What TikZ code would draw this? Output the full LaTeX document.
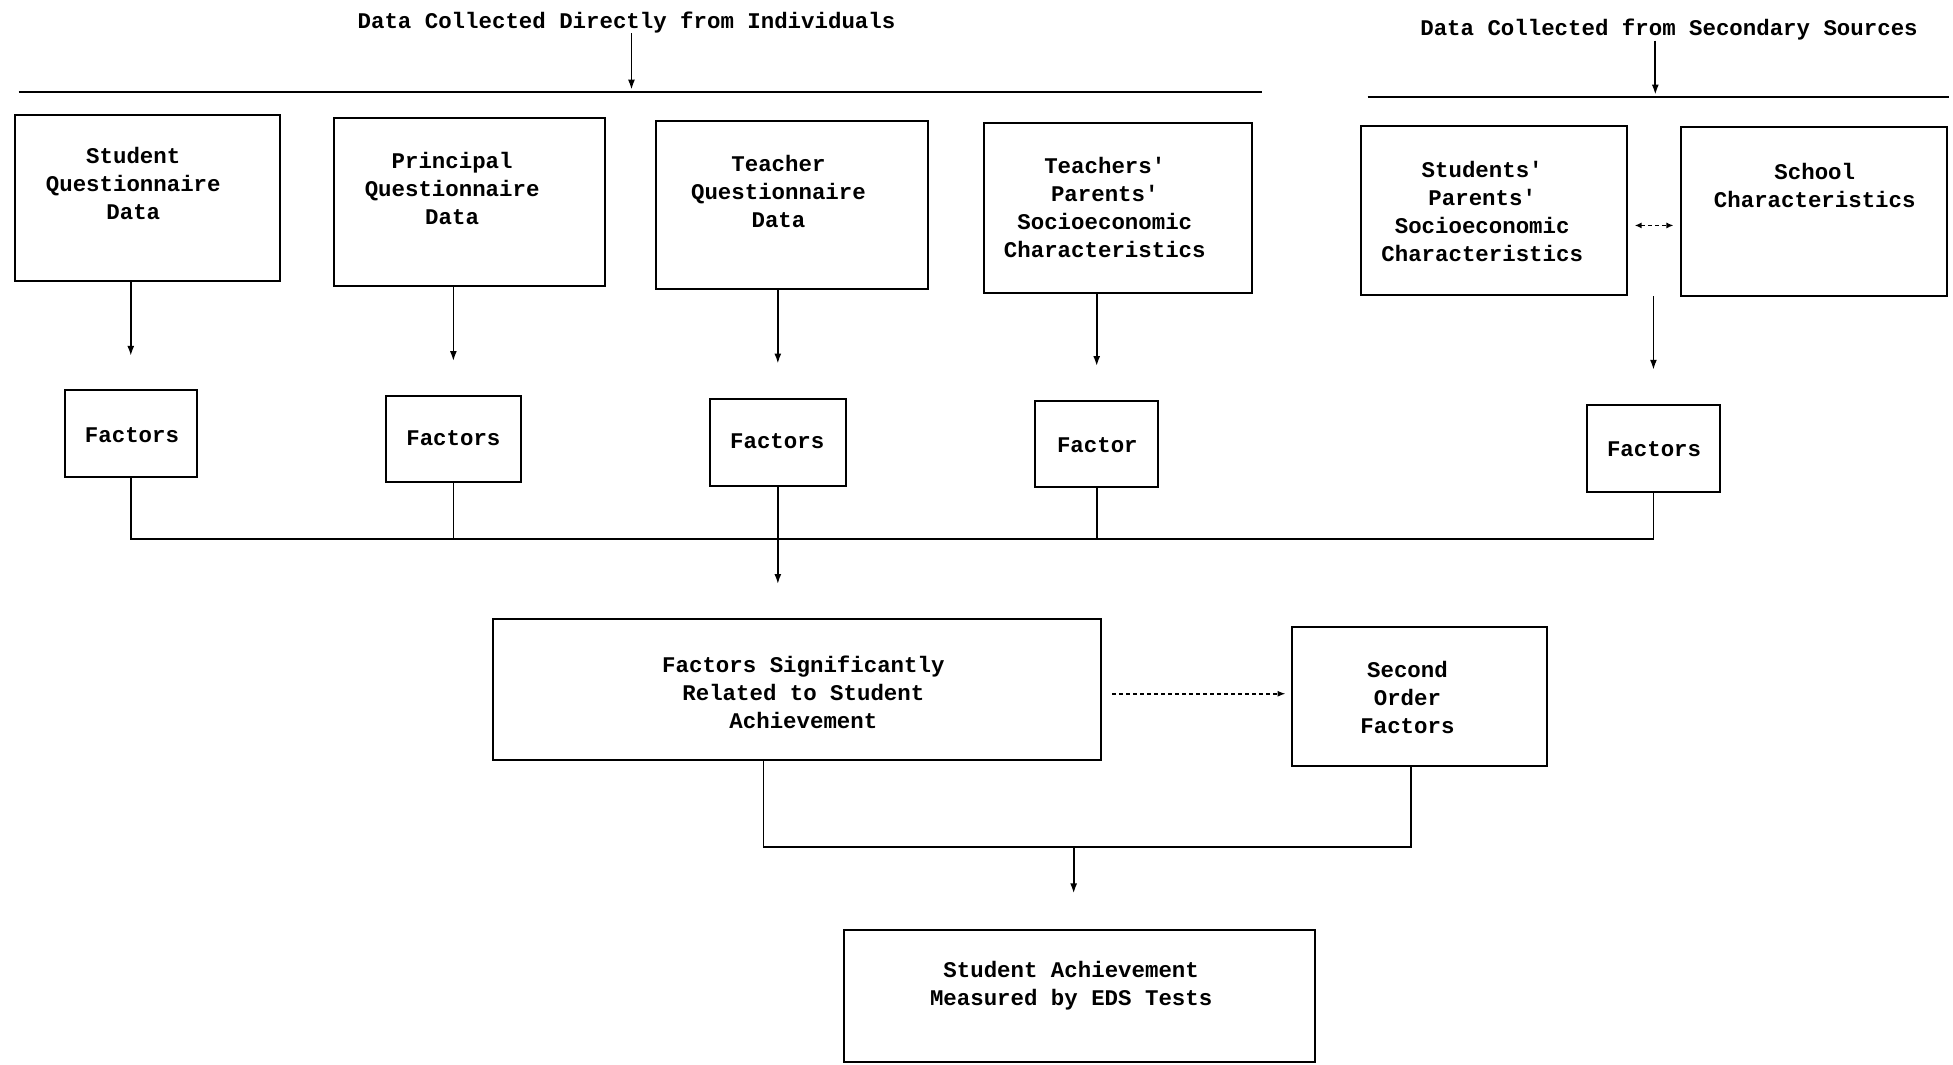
\documentclass[tikz,border=0pt]{standalone}
\usepackage{fontspec}
\setmainfont{Liberation Mono}
\usetikzlibrary{arrows.meta}
\begin{document}
\begin{tikzpicture}[x=1.2455pt, y=-1.2455pt,
  bx/.style 2 args={draw, line width=2pt, minimum width=#1*1.2455pt, minimum height=#2*1.2455pt, inner sep=0pt},
  txt/.style={align=center, inner sep=0pt, font=\fontsize{22.4}{28}\selectfont\bfseries},
  ln/.style={line width=1.7pt},
  arr/.style={ln, -{Latex[length=10pt,width=7pt]}},
  darr/.style={ln, dash pattern=on 4pt off 3pt, {Latex[length=7pt,width=6pt]}-{Latex[length=7pt,width=6pt]}},
  sarr/.style={ln, dash pattern=on 4pt off 3pt, -{Latex[length=8pt,width=6pt]}}
]
\useasboundingbox (0,0) rectangle (1568,855);

% titles
\node[txt] (t1) at (503,18) {Data Collected Directly from Individuals};
\node[txt] (t2) at (1340,24) {Data Collected from Secondary Sources};

% bars
\coordinate (bar1L) at (15,74);
\coordinate (bar1R) at (1013,74);
\coordinate (bar2L) at (1098,78);
\coordinate (bar2R) at (1565,78);
\coordinate (a1) at (507,72);
\coordinate (a2) at (1329,76);
\draw[ln] (bar1L) -- (bar1R);
\draw[ln] (bar2L) -- (bar2R);
\draw[arr] (a1 |- t1.south) -- (a1);
\draw[arr] (a2 |- t2.south) -- (a2);

% top boxes
\node[bx={213}{134}] (B1) at (118.5,159) {};
\node[bx={218}{135}] (B2) at (377,162.5) {};
\node[bx={218}{135}] (B3) at (636,164.5) {};
\node[bx={215}{136}] (B4) at (897.5,167) {};
\node[bx={213}{136}] (B5) at (1199.5,169) {};
\node[bx={213}{136}] (B6) at (1456.5,170) {};

\node[txt] (T1) at (107,147.5) {Student\\Questionnaire\\Data};
\node[txt] (T2) at (363,151) {Principal\\Questionnaire\\Data};
\node[txt] (T3) at (625,153.5) {Teacher\\Questionnaire\\Data};
\node[txt] (T4) at (887,166.5) {Teachers\textquotesingle\\Parents\textquotesingle\\Socioeconomic\\Characteristics};
\node[txt] (T5) at (1190,169.5) {Students\textquotesingle\\Parents\textquotesingle\\Socioeconomic\\Characteristics};
\node[txt] (T6) at (1457,149) {School\\Characteristics};

\coordinate (d2) at (0,181);
\draw[darr, shorten <=7pt, shorten >=7pt] (B5.east |- d2) -- (B6.west |- d2);

% factor boxes
\node[bx={106}{70}] (F1) at (105,348) {};
\node[bx={108}{69}] (F2) at (364,352.5) {};
\node[bx={109}{70}] (F3) at (624.5,355) {};
\node[bx={99}{69}] (F4) at (880.5,356.5) {};
\node[bx={107}{70}] (F5) at (1327.5,360) {};
\node[txt] (FT1) at (106,349) {Factors};
\node[txt] (FT2) at (364,352) {Factors};
\node[txt] (FT3) at (624,354) {Factors};
\node[txt] (FT4) at (881,357) {Factor};
\node[txt] (FT5) at (1328,361) {Factors};

\draw[arr, shorten >=33pt] (F1.north |- B1.south) -- (F1.north);
\draw[arr, shorten >=34pt] (F2.north |- B2.south) -- (F2.north);
\draw[arr, shorten >=34pt] (F3.north |- B3.south) -- (F3.north);
\draw[arr, shorten >=34pt] (F4.north |- B4.south) -- (F4.north);
\draw[arr, shorten >=34pt] (F5.north |- B5.south) -- (F5.north);

% middle bar
\coordinate (mb) at (0,433);
\draw[ln] (F1.south) -- (F1.south |- mb) -- (F5.south |- mb) -- (F5.south);
\draw[ln] (F2.south) -- (F2.south |- mb);
\draw[ln] (F4.south) -- (F4.south |- mb);

% lower boxes
\node[bx={488}{113}] (BB) at (640,553.5) {};
\node[txt] (BBT) at (645,556) {Factors Significantly\\Related to Student\\Achievement};
\node[bx={205}{112}] (SO) at (1139.5,559) {};
\node[txt] (SOT) at (1130,560) {Second\\Order\\Factors};

\draw[arr, shorten >=34pt] (F3.south) -- (F3.south |- BB.north);

\coordinate (dd) at (0,557);
\draw[sarr, shorten <=10pt, shorten >=5pt] (BB.east |- dd) -- (SO.west |- dd);

% bottom
\node[bx={378}{106}] (BT) at (867,800) {};
\node[txt] (BTT) at (860,791.5) {Student Achievement\\Measured by EDS Tests};

\coordinate (xl) at (613,0);
\coordinate (xr) at (1133,0);
\coordinate (xm) at (862,0);
\coordinate (lb) at (0,680);
\draw[ln] (BB.south -| xl) -- (xl |- lb) -- (xr |- lb) -- (SO.south -| xr);
\draw[arr, shorten >=36pt] (xm |- lb) -- (BT.north -| xm);
\end{tikzpicture}
\end{document}
